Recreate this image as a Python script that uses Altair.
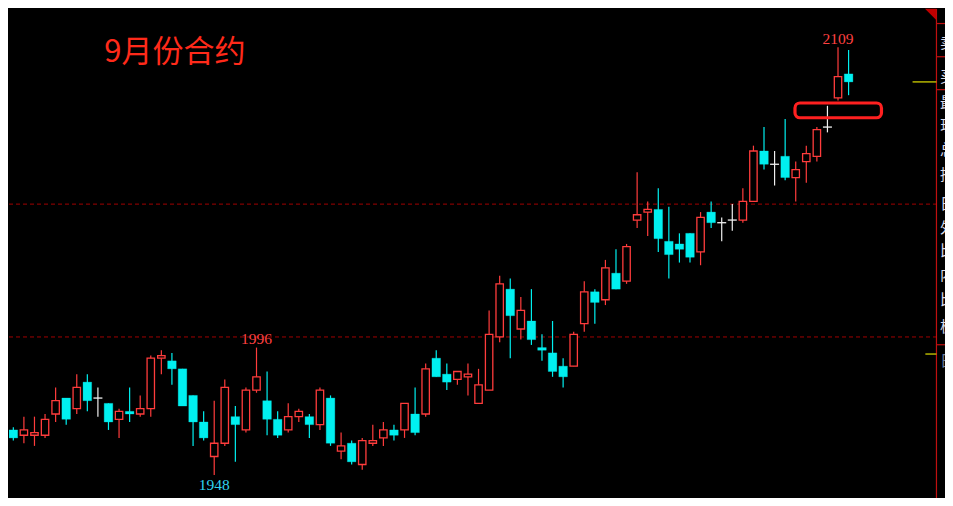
import altair as alt
import pandas as pd

# ---- data (daily candles, oldest -> newest) ----
opens = [1965, 1963, 1963, 1963, 1971, 1977, 1973, 1983, 1977, 1975,
         1969, 1972, 1971, 1973, 1992, 1991, 1988, 1978, 1968, 1955,
         1960, 1970, 1965, 1980, 1976, 1969, 1965, 1970, 1970, 1967,
         1977, 1957, 1960, 1952, 1960, 1962, 1965, 1965, 1971, 1971,
         1992, 1986, 1984, 1985, 1975, 1980, 2000, 2018, 2003, 2006,
         1996, 1994, 1989, 1989, 2005, 2017, 2014, 2024, 2021, 2044,
         2047, 2048, 2036, 2035, 2039, 2032, 2047, 2043, 2044, 2044,
         2051, 2070, 2065, 2068, 2060, 2066, 2068, 2079, 2090, 2099]
highs = [1966, 1970, 1970, 1971, 1981, 1977, 1986, 1986, 1981, 1975,
         1973, 1981, 1978, 1993, 1995, 1994, 1988, 1978, 1972, 1976,
         1984, 1974, 1981, 1996, 1987, 1972, 1975, 1973, 1971, 1981,
         1978, 1964, 1961, 1962, 1967, 1968, 1967, 1975, 1981, 1990,
         1995, 1990, 1987, 1990, 1988, 2010, 2023, 2022, 2015, 2018,
         2001, 2006, 1992, 2002, 2021, 2018, 2029, 2033, 2035, 2062,
         2051, 2056, 2049, 2039, 2039, 2047, 2051, 2045, 2050, 2056,
         2072, 2079, 2070, 2082, 2066, 2072, 2079, 2087, 2109, 2108]
lows = [1961, 1960, 1959, 1962, 1968, 1967, 1971, 1972, 1970, 1965,
        1962, 1968, 1970, 1970, 1986, 1982, 1974, 1959, 1961, 1948,
        1959, 1953, 1964, 1979, 1963, 1962, 1964, 1968, 1962, 1965,
        1959, 1954, 1952, 1950, 1959, 1959, 1961, 1962, 1963, 1970,
        1985, 1980, 1982, 1978, 1975, 1980, 1998, 1992, 1999, 1997,
        1991, 1985, 1981, 1989, 2002, 2005, 2012, 2018, 2020, 2041,
        2038, 2032, 2022, 2028, 2028, 2027, 2041, 2036, 2040, 2043,
        2051, 2063, 2057, 2059, 2051, 2058, 2066, 2077, 2089, 2091]
closes = [1962, 1965, 1964, 1969, 1976, 1969, 1981, 1976, 1977, 1968,
          1972, 1971, 1973, 1992, 1993, 1988, 1974, 1968, 1962, 1960,
          1981, 1967, 1980, 1985, 1969, 1963, 1970, 1972, 1967, 1980,
          1960, 1959, 1953, 1961, 1961, 1965, 1963, 1975, 1964, 1988,
          1985, 1983, 1987, 1986, 1982, 2001, 2020, 2008, 2010, 1999,
          1995, 1987, 1985, 2001, 2017, 2013, 2026, 2018, 2034, 2046,
          2048, 2037, 2031, 2033, 2030, 2045, 2043, 2043, 2044, 2051,
          2070, 2065, 2065, 2060, 2063, 2069, 2078, 2079, 2098, 2096]

title_text = "9月份合约"
grid_levels = [2000, 2050]
label_top_text = ["2109", "1996"]
label_top_idx = [78, 23]
label_top_val = [2109, 1996]
label_bot_text = ["1948"]
label_bot_idx = [19]
label_bot_val = [1948]
box_idx = [73.93, 82.11]
box_val = [2082.5, 2088.05]
panel_chars = ["卖", "买", "最", "现", "总", "持", "日", "外", "比", "内", "比", "板", "日"]

RED = "#ff3c3c"
CYAN = "#00f0f0"
W, H = 937, 490
SX, SY = W / 953, H / 506

df = pd.DataFrame({"i": list(range(len(opens))), "open": opens, "high": highs,
                   "low": lows, "close": closes})
df["kind"] = ["up" if c > o else ("down" if c < o else "flat")
              for o, c in zip(df["open"], df["close"])]

xs = alt.Scale(domain=[0.0636, 86.70], nice=False, zero=False)
ys = alt.Scale(domain=[1939.76, 2123.44], nice=False, zero=False)
X = lambda f: alt.X(f, type="quantitative", scale=xs, axis=None)
Y = lambda f: alt.Y(f, type="quantitative", scale=ys, axis=None)

layers = []

# dashed reference lines
grid = alt.Chart(pd.DataFrame({"v": grid_levels})).mark_rule(
    color="#a00000", strokeDash=[4, 3], strokeWidth=1
).encode(y=Y("v"), x=alt.value(0), x2=alt.value(943.3 * SX))
layers.append(grid)

base = alt.Chart(df)
wick_color = alt.Color("kind:N", scale=alt.Scale(domain=["up", "down", "flat"],
                                                  range=[RED, CYAN, "#f0f0f0"]), legend=None)
wicks = base.mark_rule(strokeWidth=1.2, clip=True).encode(
    x=X("i"), y=Y("low"), y2=alt.Y2("high"), color=wick_color)
layers.append(wicks)

up_bodies = base.transform_filter(alt.datum.kind == "up").mark_bar(
    width=7.4, fill="black", stroke=RED, strokeWidth=1.3, clip=True
).encode(x=X("i"), y=Y("open"), y2=alt.Y2("close"))
down_bodies = base.transform_filter(alt.datum.kind == "down").mark_bar(
    width=8.6, fill=CYAN, stroke=CYAN, strokeWidth=0.3, clip=True
).encode(x=X("i"), y=Y("open"), y2=alt.Y2("close"))
flat_bodies = base.transform_filter(alt.datum.kind == "flat").mark_tick(
    orient="horizontal", size=9, thickness=1.3, color="#f0f0f0", opacity=1
).encode(x=X("i"), y=Y("open"))
layers += [up_bodies, down_bodies, flat_bodies]

# highlight box
box = alt.Chart(pd.DataFrame({"x": [box_idx[0]], "x2": [box_idx[1]],
                              "y": [box_val[0]], "y2": [box_val[1]]})).mark_rect(
    fill="black", fillOpacity=0, stroke="#ff2020", strokeWidth=3.2, cornerRadius=5
).encode(x=X("x"), x2=alt.X2("x2"), y=Y("y"), y2=alt.Y2("y2"))
layers.append(box)

# high / low labels
top_lbl = alt.Chart(pd.DataFrame({"t": label_top_text, "i": label_top_idx,
                                  "v": label_top_val})).mark_text(
    font="Liberation Serif", fontSize=15.5, color="#ff4040", baseline="alphabetic",
    align="center", dy=-3.5
).encode(x=X("i"), y=Y("v"), text="t:N")
bot_lbl = alt.Chart(pd.DataFrame({"t": label_bot_text, "i": label_bot_idx,
                                  "v": label_bot_val})).mark_text(
    font="Liberation Serif", fontSize=15.5, color="#30d4f0", baseline="alphabetic",
    align="center", dy=14.5
).encode(x=X("i"), y=Y("v"), text="t:N")
layers += [top_lbl, bot_lbl]

one = pd.DataFrame({"a": [0]})

# title
title = alt.Chart(one).mark_text(
    text=title_text, font="Noto Sans CJK SC", fontSize=31, color="#ff2a1a",
    align="left", baseline="alphabetic"
).encode(x=alt.value(97 * SX), y=alt.value(55 * SY))
layers.append(title)

# right side quote panel (mostly cut off)
PX = 943.3 * SX
layers.append(alt.Chart(one).mark_rule(color="#c01010", strokeWidth=1.2).encode(
    x=alt.value(PX), y=alt.value(0), y2=alt.value(H)))
for yy in [15, 49.3, 83.3, 346.7]:
    layers.append(alt.Chart(one).mark_rule(color="#c01010", strokeWidth=1.2).encode(
        x=alt.value(PX), x2=alt.value(W), y=alt.value(yy * SY)))
for yy, x0 in [(75.3, 919), (356.3, 932)]:
    layers.append(alt.Chart(one).mark_rule(color="#e0e000", strokeWidth=1.2).encode(
        x=alt.value(x0 * SX), x2=alt.value(PX), y=alt.value(yy * SY)))
layers.append(alt.Chart(one).mark_point(
    shape="M -1 -1 L 1 -1 L 1 1 Z", filled=True, size=132, color="#c00000", opacity=1
).encode(x=alt.value(937.5 * SX), y=alt.value(5.8 * SY)))
char_y = [35, 70, 97, 121, 146, 171, 201, 226, 250, 275, 300, 328, 363]
for ch, yy in zip(panel_chars, char_y):
    col = "#7080a0" if yy > 350 else "#dcdcec"
    layers.append(alt.Chart(one).mark_text(
        text=ch, font="Noto Sans CJK SC", fontSize=15, color=col,
        align="left", baseline="middle"
    ).encode(x=alt.value(947 * SX), y=alt.value(yy * SY)))

chart = alt.layer(*layers).properties(
    width=W, height=H, padding=0, background="black",
    autosize=alt.AutoSizeParams(type="fit", contains="padding")
).configure_view(stroke=None)

chart.save("out.html", embed_options={"renderer": "svg", "actions": False})
